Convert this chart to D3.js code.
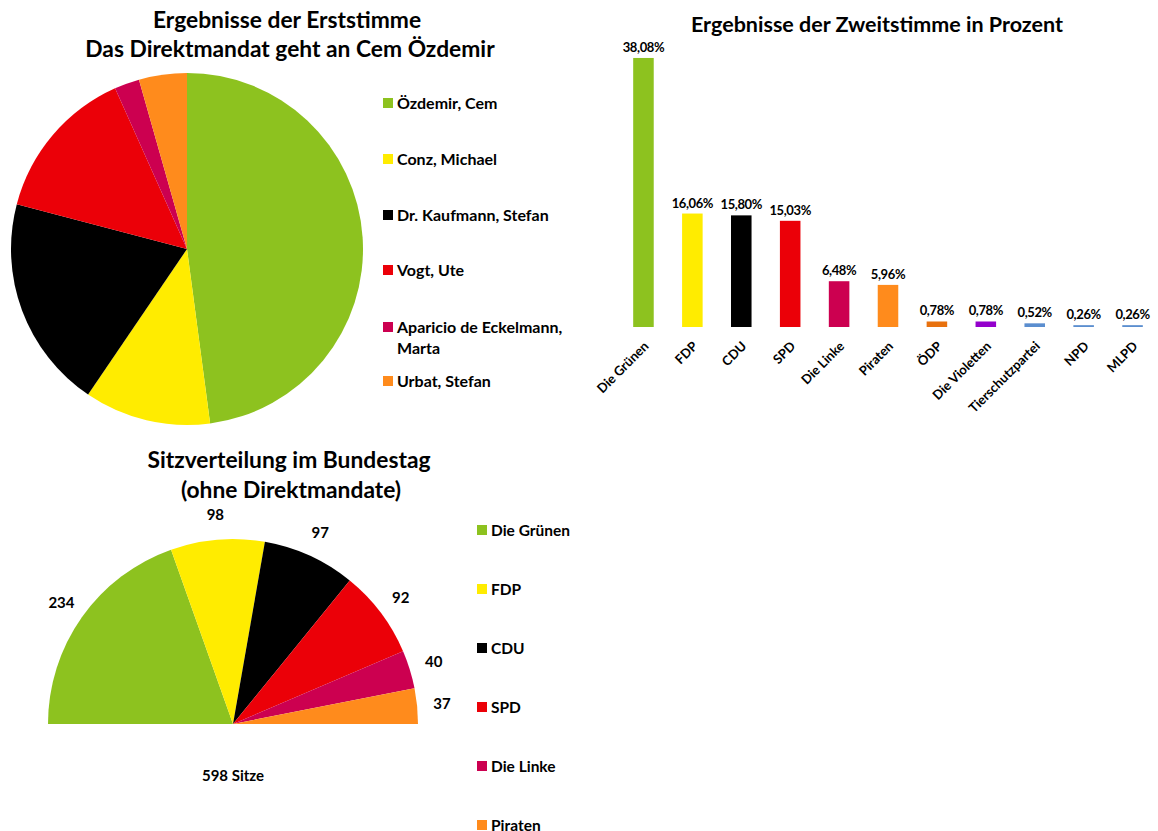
<!DOCTYPE html>
<html>
<head>
<meta charset="utf-8">
<script src="https://cdn.jsdelivr.net/npm/d3@7"></script>
<style>
  html, body { margin: 0; padding: 0; background: #fff; }
  svg { display: block; font-family: Lato, "Open Sans", sans-serif; font-weight: bold; }
</style>
</head>
<body>
<svg id="chart" width="1158" height="831"></svg>
<script>
// ---------- Data ----------
const erstCandidates = ["Özdemir, Cem", "Conz, Michael", "Dr. Kaufmann, Stefan", "Vogt, Ute", "Aparicio de Eckelmann, Marta", "Urbat, Stefan"];
const erstValues = [47.9, 11.6, 19.6, 14.2, 2.3, 4.4];
const erstColors = ["#8DC21F", "#FFEC00", "#000000", "#EB0008", "#CC0050", "#FF8B1C"];

const zweitParties = ["Die Grünen", "FDP", "CDU", "SPD", "Die Linke", "Piraten", "ÖDP", "Die Violetten", "Tierschutzpartei", "NPD", "MLPD"];
const zweitValues = [38.08, 16.06, 15.80, 15.03, 6.48, 5.96, 0.78, 0.78, 0.52, 0.26, 0.26];
const zweitLabels = ["38,08%", "16,06%", "15,80%", "15,03%", "6,48%", "5,96%", "0,78%", "0,78%", "0,52%", "0,26%", "0,26%"];
const zweitColors = ["#8DC21F", "#FFEC00", "#000000", "#EB0008", "#CC0050", "#FF8B1C", "#E8710E", "#9400CC", "#5B8ECF", "#5B8ECF", "#5B8ECF"];

const sitzParties = ["Die Grünen", "FDP", "CDU", "SPD", "Die Linke", "Piraten"];
const sitzValues = [234, 98, 97, 92, 40, 37];
const sitzColors = ["#8DC21F", "#FFEC00", "#000000", "#EB0008", "#CC0050", "#FF8B1C"];
const sitzTotalLabel = "598 Sitze";

const svg = d3.select("#chart");
svg.append("rect").attr("width", 1158).attr("height", 831).attr("fill", "#fff");

const TITLE_L = 22.8, TITLE_R = 21.5, LEG1 = 16, LEG3 = 15.5;

// ---------- Chart 1: Erststimme pie ----------
const g1 = svg.append("g");
g1.append("text").attr("x", 287).attr("y", 28).attr("text-anchor", "middle")
  .attr("font-size", TITLE_L).text("Ergebnisse der Erststimme");
g1.append("text").attr("x", 290).attr("y", 57).attr("text-anchor", "middle")
  .attr("font-size", TITLE_L).text("Das Direktmandat geht an Cem Özdemir");

const pie1 = d3.pie().sort(null).value(d => d)(erstValues);
const arc1 = d3.arc().innerRadius(0).outerRadius(176);
g1.append("g").attr("transform", "translate(187,249)")
  .selectAll("path").data(pie1).join("path")
  .attr("d", arc1).attr("fill", (d, i) => erstColors[i]);

const leg1Y = [103, 159, 215, 270, 327, 381];
const leg1 = g1.append("g");
erstCandidates.forEach((name, i) => {
  leg1.append("rect").attr("x", 383).attr("y", leg1Y[i] - 5).attr("width", 10).attr("height", 10)
    .attr("fill", erstColors[i]);
  const t = leg1.append("text").attr("x", 397).attr("y", leg1Y[i] + 6).attr("font-size", LEG1);
  if (name.length > 24) {
    const parts = name.split(", ");
    t.append("tspan").attr("x", 397).text(parts[0] + ",");
    t.append("tspan").attr("x", 397).attr("dy", 21).text(parts[1]);
  } else {
    t.text(name);
  }
});

// ---------- Chart 2: Zweitstimme bars ----------
const g2 = svg.append("g");
g2.append("text").attr("x", 877).attr("y", 32).attr("text-anchor", "middle")
  .attr("font-size", TITLE_R).text("Ergebnisse der Zweitstimme in Prozent");

const x2 = d3.scaleBand().domain(zweitParties).range([619, 1157]).paddingInner(0.58).paddingOuter(0.29);
const y2 = d3.scaleLinear().domain([0, 40]).range([327, 44.4]);

g2.selectAll("rect.bar").data(zweitValues).join("rect").attr("class", "bar")
  .attr("x", (d, i) => x2(zweitParties[i]))
  .attr("width", x2.bandwidth())
  .attr("y", d => y2(d))
  .attr("height", d => y2(0) - y2(d))
  .attr("fill", (d, i) => zweitColors[i]);

g2.selectAll("text.val").data(zweitValues).join("text").attr("class", "val")
  .attr("x", (d, i) => x2(zweitParties[i]) + x2.bandwidth() / 2)
  .attr("y", d => y2(d) - 6)
  .attr("text-anchor", "middle").attr("font-size", 13)
  .attr("letter-spacing", -0.4)
  .text((d, i) => zweitLabels[i]);

g2.selectAll("text.cat").data(zweitParties).join("text").attr("class", "cat")
  .attr("transform", d => `translate(${x2(d) + x2.bandwidth() / 2 + 6},${y2(0) + 20}) rotate(-45)`)
  .attr("text-anchor", "end").attr("font-size", 13)
  .text(d => d);

// ---------- Chart 3: Sitzverteilung half pie ----------
const g3 = svg.append("g");
g3.append("text").attr("x", 289).attr("y", 468).attr("text-anchor", "middle")
  .attr("font-size", TITLE_L).text("Sitzverteilung im Bundestag");
g3.append("text").attr("x", 291).attr("y", 498).attr("text-anchor", "middle")
  .attr("font-size", TITLE_L).text("(ohne Direktmandate)");

const cx3 = 233, cy3 = 724, r3 = 185;
const pie3 = d3.pie().sort(null).value(d => d).startAngle(-Math.PI / 2).endAngle(Math.PI / 2)(sitzValues);
const arc3 = d3.arc().innerRadius(0).outerRadius(r3);
const lab3 = d3.arc().innerRadius(r3 + 25).outerRadius(r3 + 25);
const p3 = g3.append("g").attr("transform", `translate(${cx3},${cy3})`);
p3.selectAll("path").data(pie3).join("path")
  .attr("d", arc3).attr("fill", (d, i) => sitzColors[i]);
p3.selectAll("text").data(pie3).join("text")
  .attr("transform", d => `translate(${lab3.centroid(d)})`)
  .attr("text-anchor", "middle").attr("dy", "0.35em").attr("font-size", 15)
  .text(d => d.data);
p3.append("text").attr("x", 0).attr("y", r3 * 0.28 + 5).attr("text-anchor", "middle")
  .attr("font-size", 15).text(sitzTotalLabel);

const leg3Y = [530, 589, 648, 707, 766, 825];
sitzParties.forEach((name, i) => {
  g3.append("rect").attr("x", 477).attr("y", leg3Y[i] - 5).attr("width", 10).attr("height", 10)
    .attr("fill", sitzColors[i]);
  g3.append("text").attr("x", 491).attr("y", leg3Y[i] + 6).attr("font-size", LEG3).text(name);
});
</script>
</body>
</html>
